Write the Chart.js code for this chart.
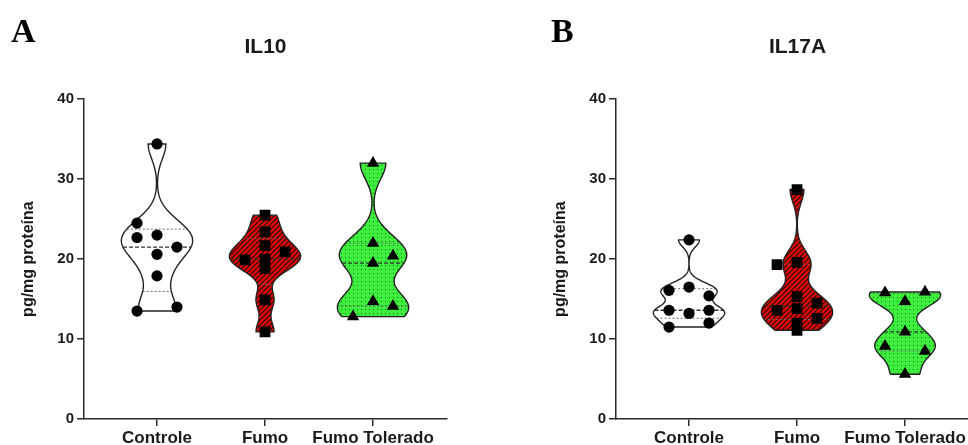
<!DOCTYPE html>
<html lang="pt">
<head>
<meta charset="utf-8">
<title>IL10 / IL17A</title>
<script src="https://cdn.jsdelivr.net/npm/chart.js@4.4.1/dist/chart.umd.min.js"></script>
<style>
  html, body { margin: 0; padding: 0; background: #fff; }
  body { width: 968px; height: 445px; position: relative; overflow: hidden; }
  .panel { position: absolute; top: 0; }
  .letter {
    position: absolute;
    font-family: 'Liberation Serif', 'Times New Roman', serif;
    font-weight: bold;
    font-size: 34px;
    line-height: 1;
    color: #000;
  }
</style>
</head>
<body>
<canvas id="chartA" class="panel" width="484" height="445" style="left:0"></canvas>
<canvas id="chartB" class="panel" width="484" height="445" style="left:532px"></canvas>
<div class="letter" style="left:11px;top:14px">A</div>
<div class="letter" style="left:551px;top:14px">B</div>
<script>
// --- Data ---
const groups = ['Controle', 'Fumo', 'Fumo Tolerado'];
const yTicks = [0, 10, 20, 30, 40];

// IL10, pg/mg proteína
const il10Controle = [34.4, 24.5, 23.0, 22.7, 21.5, 20.6, 17.9, 14.0, 13.5];
const il10Fumo = [25.5, 23.4, 21.7, 20.0, 19.9, 20.9, 18.8, 14.9, 10.9];
const il10Tolerado = [32.0, 22.0, 19.5, 20.4, 14.7, 14.1, 12.8];

// IL17A, pg/mg proteína
const il17Controle = [22.4, 16.1, 16.5, 15.4, 13.6, 13.2, 13.6, 11.5, 12.0];
const il17Fumo = [28.7, 19.6, 19.3, 15.3, 13.8, 13.6, 14.5, 12.6, 12.0, 11.1];
const il17Tolerado = [15.8, 15.9, 14.7, 10.9, 9.1, 8.5, 5.6];

// scatter column of each point (-1 left, 0 centre, 1 right), as Prism spread them
const il10ControleSlot = [0, -1, 0, -1, 1, 0, 0, 1, -1];
const il10FumoSlot = [0, 0, 0, 0, -1, 1, 0, 0, 0];
const il10ToleradoSlot = [0, 0, 0, 1, 0, 1, -1];
const il17ControleSlot = [0, -1, 0, 1, -1, 0, 1, -1, 1];
const il17FumoSlot = [0, 0, -1, 0, 0, -1, 1, 1, 0, 0];
const il17ToleradoSlot = [-1, 1, 0, 0, -1, 1, 0];

// --- Look ---
const FONT = "'Liberation Sans', Arial, sans-serif";
const INK = '#1a1a1a';
const AXIS = '#2a2a2a';
const SLOT_W = 0.185;     // category units between point columns
const HALF_W = 0.33;      // max half width of a violin, category units

// --- Stats helpers ---
function quantile(values, p) {
  const s = [...values].sort((a, b) => a - b);
  const pos = p * (s.length + 1) - 1;
  const lo = Math.max(0, Math.min(s.length - 1, Math.floor(pos)));
  const hi = Math.min(s.length - 1, lo + 1);
  return s[lo] + (pos - lo) * (s[hi] - s[lo]);
}

function bandwidth(values) {
  const n = values.length;
  const mean = values.reduce((a, b) => a + b, 0) / n;
  const sd = Math.sqrt(values.reduce((a, v) => a + (v - mean) ** 2, 0) / (n - 1));
  const iqr = quantile(values, 0.75) - quantile(values, 0.25);
  // Silverman, narrowed to look like Prism's "medium" smoothing
  return 0.55 * 0.9 * Math.min(sd, iqr / 1.34) * Math.pow(n, -0.2);
}

function density(values, h, y) {
  let s = 0;
  values.forEach(v => { const z = (y - v) / h; s += Math.exp(-0.5 * z * z); });
  return s;
}

// --- Fill patterns ---
function hatchPattern(ctx) {
  const c = document.createElement('canvas');
  c.width = 5; c.height = 5;
  const g = c.getContext('2d');
  g.fillStyle = '#ea0000';
  g.fillRect(0, 0, 5, 5);
  g.strokeStyle = '#111';
  g.lineWidth = 1.1;
  g.beginPath();
  g.moveTo(-1, 6); g.lineTo(6, -1);
  g.moveTo(-1, 1); g.lineTo(1, -1);
  g.moveTo(4, 6); g.lineTo(6, 4);
  g.stroke();
  return ctx.createPattern(c, 'repeat');
}

function dotPattern(ctx) {
  const c = document.createElement('canvas');
  c.width = 4; c.height = 4;
  const g = c.getContext('2d');
  g.fillStyle = '#3ef03e';
  g.fillRect(0, 0, 4, 4);
  g.fillStyle = '#1d6b1d';
  g.fillRect(1, 1, 1, 1);
  return ctx.createPattern(c, 'repeat');
}

// --- Violin plugin: KDE outline + median / quartile lines ---
const violinPlugin = {
  id: 'violins',
  beforeDatasetsDraw(chart) {
    const opts = chart.options.plugins.violins;
    const { ctx, scales: { x, y } } = chart;
    opts.items.forEach((item, gi) => {
      const vals = item.values;
      const lo = Math.min(...vals);
      const hi = Math.max(...vals);
      const h = bandwidth(vals);
      const steps = 160;
      const ys = [];
      const ds = [];
      for (let k = 0; k <= steps; k++) {
        const v = lo + (hi - lo) * k / steps;
        ys.push(v);
        ds.push(density(vals, h, v));
      }
      const dMax = Math.max(...ds);
      const half = v => HALF_W * density(vals, h, v) / dMax;

      ctx.save();
      ctx.beginPath();
      ys.forEach((v, k) => {
        const px = x.getPixelForValue(gi + HALF_W * ds[k] / dMax);
        const py = y.getPixelForValue(v);
        if (k === 0) ctx.moveTo(px, py); else ctx.lineTo(px, py);
      });
      for (let k = steps; k >= 0; k--) {
        ctx.lineTo(x.getPixelForValue(gi - HALF_W * ds[k] / dMax), y.getPixelForValue(ys[k]));
      }
      ctx.closePath();
      ctx.fillStyle = item.fill;
      ctx.fill();

      // quartiles dotted, median dashed
      const lines = [
        { v: quantile(vals, 0.25), dash: [2, 2], color: '#6a6a6a', w: 1 },
        { v: quantile(vals, 0.75), dash: [2, 2], color: '#6a6a6a', w: 1 },
        { v: quantile(vals, 0.5), dash: [4, 2], color: '#333', w: 1.3 }
      ];
      lines.forEach(l => {
        const w = half(l.v);
        const py = y.getPixelForValue(l.v);
        ctx.beginPath();
        ctx.setLineDash(l.dash);
        ctx.strokeStyle = l.color;
        ctx.lineWidth = l.w;
        ctx.moveTo(x.getPixelForValue(gi - w), py);
        ctx.lineTo(x.getPixelForValue(gi + w), py);
        ctx.stroke();
      });

      // outline
      ctx.setLineDash([]);
      ctx.beginPath();
      ys.forEach((v, k) => {
        const px = x.getPixelForValue(gi + HALF_W * ds[k] / dMax);
        const py = y.getPixelForValue(v);
        if (k === 0) ctx.moveTo(px, py); else ctx.lineTo(px, py);
      });
      for (let k = steps; k >= 0; k--) {
        ctx.lineTo(x.getPixelForValue(gi - HALF_W * ds[k] / dMax), y.getPixelForValue(ys[k]));
      }
      ctx.closePath();
      ctx.strokeStyle = '#222';
      ctx.lineWidth = 1.4;
      ctx.stroke();
      ctx.restore();
    });
  }
};

// --- Scatter points ---
function pointSet(values, slots, gi, style, radius) {
  return {
    data: values.map((v, k) => ({ x: gi + slots[k] * SLOT_W, y: v })),
    pointStyle: style,
    pointRadius: radius,
    pointHoverRadius: radius,
    backgroundColor: '#000',
    borderColor: '#000',
    borderWidth: 0
  };
}

// --- Chart builder ---
function makeChart(id, title, series) {
  const canvas = document.getElementById(id);
  const ctx = canvas.getContext('2d');
  const fills = ['#ffffff', hatchPattern(ctx), dotPattern(ctx)];
  const styles = [['circle', 5.6], ['rect', 7.6], ['triangle', 7.2]];

  return new Chart(canvas, {
    type: 'scatter',
    data: {
      datasets: series.map((s, i) => pointSet(s.values, s.slots, i, styles[i][0], styles[i][1]))
    },
    options: {
      responsive: false,
      animation: false,
      devicePixelRatio: 1,
      layout: { padding: { left: 15, right: 37, top: 0, bottom: 0 } },
      plugins: {
        legend: { display: false },
        tooltip: { enabled: false },
        title: {
          display: true,
          text: title,
          fullSize: false,
          color: INK,
          font: { family: FONT, size: 21, weight: 'bold' },
          padding: { top: 35, bottom: 39 }
        },
        violins: {
          items: series.map((s, i) => ({ values: s.values, fill: fills[i] }))
        }
      },
      scales: {
        x: {
          type: 'linear',
          min: -0.676,
          max: 2.685,
          afterFit: s => { s.height = 26; },
          afterBuildTicks: s => { s.ticks = groups.map((g, i) => ({ value: i })); },
          ticks: {
            callback: v => groups[v],
            autoSkip: false,
            maxRotation: 0,
            padding: 2,
            color: INK,
            font: { family: FONT, size: 17, weight: 'bold' }
          },
          grid: { drawOnChartArea: false, drawTicks: true, tickLength: 7, color: AXIS, lineWidth: 1.5 },
          border: { display: true, color: AXIS, width: 1.5 }
        },
        y: {
          min: 0,
          max: 40,
          afterFit: s => { s.width = 69; },
          afterBuildTicks: s => { s.ticks = yTicks.map(v => ({ value: v })); },
          ticks: {
            padding: 3,
            color: INK,
            font: { family: FONT, size: 15, weight: 'bold' }
          },
          grid: { drawOnChartArea: false, drawTicks: true, tickLength: 7, color: AXIS, lineWidth: 1.5 },
          border: { display: true, color: AXIS, width: 1.5 },
          title: {
            display: true,
            text: 'pg/mg proteína',
            color: INK,
            font: { family: FONT, size: 16, weight: 'bold' },
            padding: { top: 4, bottom: 0 }
          }
        }
      }
    },
    plugins: [violinPlugin]
  });
}

document.addEventListener('DOMContentLoaded', () => {
  makeChart('chartA', 'IL10', [
    { values: il10Controle, slots: il10ControleSlot },
    { values: il10Fumo, slots: il10FumoSlot },
    { values: il10Tolerado, slots: il10ToleradoSlot }
  ]);
  makeChart('chartB', 'IL17A', [
    { values: il17Controle, slots: il17ControleSlot },
    { values: il17Fumo, slots: il17FumoSlot },
    { values: il17Tolerado, slots: il17ToleradoSlot }
  ]);
});
</script>
</body>
</html>
